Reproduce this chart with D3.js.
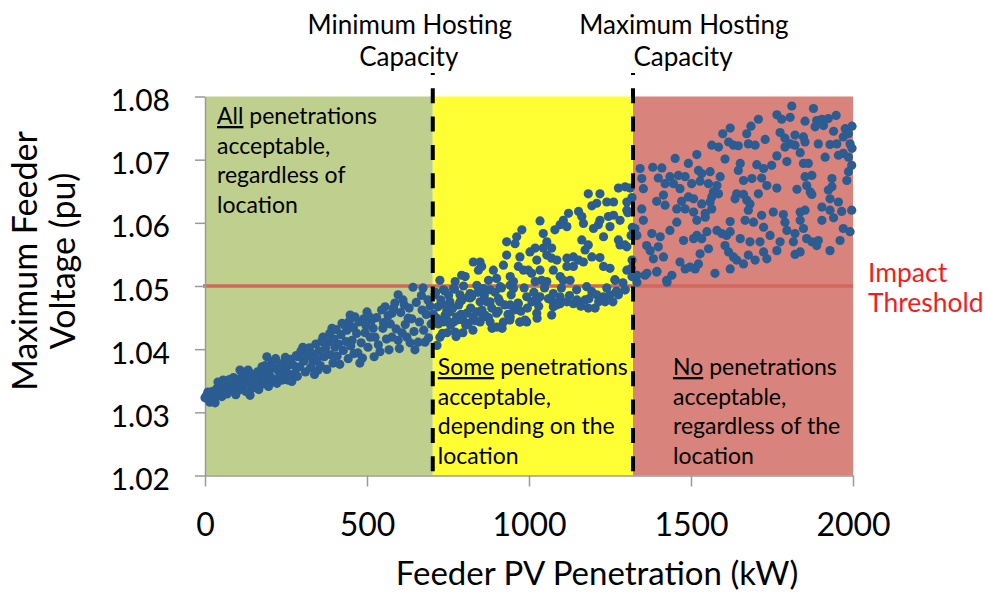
<!DOCTYPE html>
<html><head><meta charset="utf-8">
<script src="https://cdn.jsdelivr.net/npm/d3@7"></script>
<style>
html,body{margin:0;padding:0;background:#fff;}
svg{display:block;font-family:Lato,"Open Sans",sans-serif;}
</style></head>
<body><svg id="c" width="985" height="593"></svg>
<script>
// ---------------- DATA ----------------
const xTicks = [0, 500, 1000, 1500, 2000];
const yTicks = [1.02, 1.03, 1.04, 1.05, 1.06, 1.07, 1.08];
const xDomain = [0, 2000];
const yDomain = [1.02, 1.08];
const hostingCapacity = [703, 1321];          // kW: minimum, maximum
const hostingLabels = [["Minimum Hosting", "Capacity"], ["Maximum Hosting", "Capacity"]];
const impactThreshold = 1.05;
const thresholdLabel = ["Impact", "Threshold"];
const regionBounds = [[0, 703], [703, 1321], [1321, 2000]];
const regionKeyword = ["All", "Some", "No"];
const regionText = [
  [" penetrations", "acceptable,", "regardless of", "location"],
  [" penetrations", "acceptable,", "depending on the", "location"],
  [" penetrations", "acceptable,", "regardless of the", "location"]
];
const xTitle = "Feeder PV Penetration (kW)";
const yTitle = ["Maximum Feeder", "Voltage (pu)"];

// [penetration kW, max feeder voltage pu]
const greenPts = [
[0,1.0323],[15,1.0316],[31,1.0315],[9,1.0332],[40,1.0348],[56,1.0351],[71,1.0343],[62,1.0331],[93,1.0338],[108,1.0367],
[133,1.0367],[123,1.0346],[139,1.0327],[154,1.0340],[176,1.0372],[191,1.0388],[207,1.0380],[225,1.0367],[241,1.0378],[194,1.0351],
[222,1.0346],[256,1.0351],[278,1.0362],[287,1.0388],[302,1.0403],[318,1.0394],[333,1.0380],[349,1.0367],[364,1.0419],[380,1.0411],
[392,1.0433],[401,1.0403],[423,1.0441],[438,1.0430],[454,1.0414],[472,1.0394],[478,1.0378],[448,1.0454],[463,1.0451],[500,1.0459],
[515,1.0446],[494,1.0426],[525,1.0419],[503,1.0403],[540,1.0396],[556,1.0467],[577,1.0457],[596,1.0486],[611,1.0478],[586,1.0473],
[549,1.0433],[577,1.0419],[596,1.0414],[627,1.0449],[648,1.0399],[623,1.0419],[679,1.0411],[688,1.0478],[642,1.0498],[673,1.0497],
[670,1.0462],
[5,1.0327],[12,1.0325],[20,1.0322],[22,1.0333],[28,1.0329],[35,1.0337],[38,1.0326],[45,1.0331],[48,1.0342],[52,1.0325],
[58,1.0338],[65,1.0345],[68,1.0329],[75,1.0352],[78,1.0334],[82,1.0341],[88,1.0355],[95,1.0328],[99,1.0346],[104,1.0352],
[110,1.0336],[115,1.0358],[118,1.0343],[126,1.0333],[129,1.0356],[135,1.0349],[142,1.0361],[146,1.0338],[150,1.0355],[158,1.0347],
[162,1.0364],[166,1.0336],[170,1.0356],[178,1.0345],[183,1.0361],[186,1.0374],[196,1.0341],[199,1.0366],[203,1.0356],[210,1.0372],
[214,1.0348],[218,1.0385],[230,1.0357],[233,1.0374],[238,1.0351],[245,1.0363],[248,1.0387],[252,1.0372],[260,1.0360],[265,1.0384],
[268,1.0349],[272,1.0375],[282,1.0390],[285,1.0357],[292,1.0372],[296,1.0397],[305,1.0381],[310,1.0364],[314,1.0389],[322,1.0402],
[326,1.0371],[330,1.0393],[338,1.0360],[342,1.0408],[345,1.0384],[352,1.0397],[356,1.0374],[360,1.0412],[368,1.0388],[372,1.0401],
[376,1.0368],[385,1.0425],[388,1.0391],[395,1.0378],[398,1.0416],[405,1.0431],[408,1.0389],[412,1.0408],[416,1.0376],[420,1.0423],
[427,1.0398],[432,1.0437],[435,1.0412],[442,1.0385],[445,1.0444],[450,1.0405],[458,1.0434],[460,1.0393],[468,1.0425],[475,1.0443],
[482,1.0410],[486,1.0386],[490,1.0448],[497,1.0437],[506,1.0452],[510,1.0419],[519,1.0433],[522,1.0388],[530,1.0450],[535,1.0407],
[545,1.0462],[551,1.0442],[560,1.0416],[565,1.0453],[568,1.0399],[572,1.0440],[582,1.0465],[590,1.0432],[600,1.0401],[604,1.0458],
[608,1.0426],[615,1.0470],[618,1.0439],[630,1.0465],[633,1.0410],[638,1.0448],[645,1.0428],[652,1.0474],[658,1.0411],[662,1.0443],
[668,1.0485],[675,1.0430],[683,1.0455],[690,1.0418],[695,1.0468],[698,1.0440]
];
const yellowPts = [
[1183,1.0646],[1219,1.0646],[1209,1.0631],[1194,1.0627],[1240,1.0633],[1261,1.0633],[1276,1.0655],[1297,1.0657],[1312,1.0655],[1302,1.0633],
[1302,1.0620],[1261,1.0612],[1245,1.0610],[1281,1.0604],[1219,1.0604],[1214,1.0597],[1250,1.0594],[1199,1.0591],[1168,1.0599],[1153,1.0618],
[1163,1.0610],[1122,1.0615],[1106,1.0604],[1096,1.0597],[1117,1.0594],[1080,1.0589],[1034,1.0603],[1044,1.0583],[978,1.0589],[962,1.0578],
[931,1.0570],[957,1.0567],[1055,1.0570],[1070,1.0560],[1044,1.0560],[1019,1.0560],[1003,1.0554],[1024,1.0541],[1055,1.0549],[1070,1.0544],
[1086,1.0541],[1117,1.0544],[1137,1.0546],[1153,1.0541],[1168,1.0538],[1183,1.0565],[1173,1.0557],[1163,1.0573],[1230,1.0578],[1276,1.0573],
[1302,1.0562],[1281,1.0565],[1194,1.0546],[1219,1.0545],[1230,1.0531],[1250,1.0528],[1302,1.0525],[1318,1.0515],[1266,1.0509],[931,1.0549],
[921,1.0533],[890,1.0525],[828,1.0538],[849,1.0538],[844,1.0525],[854,1.0531],[983,1.0525],[998,1.0525],[1008,1.0520],[1034,1.0525],
[1039,1.0509],[1019,1.0507],[1055,1.0507],[1096,1.0515],[1117,1.0531],[1137,1.0531],[1075,1.0525],[1106,1.0509],[1127,1.0509],[972,1.0546],
[967,1.0531],[942,1.0515],[952,1.0507],[900,1.0512],[875,1.0509],[803,1.0515],[792,1.0517],[772,1.0507],[725,1.0509],[767,1.0496],
[736,1.0494],[710,1.0486],[787,1.0486],[818,1.0488],[839,1.0501],[859,1.0496],[880,1.0494],[911,1.0499],[942,1.0501],[952,1.0496],
[906,1.0480],[870,1.0475],[849,1.0475],[823,1.0483],[787,1.0475],[756,1.0475],[731,1.0472],[746,1.0462],[777,1.0451],[808,1.0457],
[839,1.0459],[864,1.0454],[900,1.0457],[942,1.0470],[967,1.0472],[993,1.0483],[1019,1.0478],[1034,1.0483],[1075,1.0488],[1096,1.0483],
[1096,1.0472],[1117,1.0475],[1137,1.0472],[1173,1.0478],[1147,1.0494],[1178,1.0499],[1194,1.0491],[1209,1.0486],[1230,1.0483],[1250,1.0486],
[1276,1.0486],[1297,1.0494],[1183,1.0465],[1204,1.0465],[1075,1.0467],[1070,1.0454],[1024,1.0457],[993,1.0443],[972,1.0443],[942,1.0451],
[921,1.0443],[880,1.0443],[849,1.0443],[813,1.0441],[767,1.0443],[736,1.0443],[715,1.0449],[725,1.0419],[716,1.0406],[747,1.0426],
[772,1.0427],[796,1.0426],[827,1.0430],[886,1.0433],[901,1.0435],[917,1.0433],[941,1.0446],[972,1.0443],[988,1.0446],[1025,1.0449],
[731,1.0446],[741,1.0454],[756,1.0459],[778,1.0446],[796,1.0446],[827,1.0451],[858,1.0451],[719,1.0467],[756,1.0470],[793,1.0478],
[818,1.0481],[880,1.0475],[910,1.0475],[966,1.0473],[1009,1.0475],[1028,1.0481],[1074,1.0475],[1148,1.0478],[1235,1.0475],[1259,1.0475],
[1296,1.0494],[1265,1.0510],[1318,1.0541],[1316,1.0528],[1305,1.0616],[1319,1.0593],[1296,1.0565],[1315,1.0580],[1318,1.0640],
[705,1.0455],[712,1.0490],[720,1.0440],[728,1.0478],[733,1.0425],[740,1.0492],[745,1.0448],[752,1.0485],[758,1.0438],[765,1.0465],
[770,1.0495],[775,1.0420],[783,1.0470],[790,1.0455],[798,1.0500],[805,1.0438],[812,1.0482],[820,1.0465],[835,1.0445],[842,1.0490],
[855,1.0462],[862,1.0485],[875,1.0450],[885,1.0465],[895,1.0490],[905,1.0460],[915,1.0497],[925,1.0470],[935,1.0455],[945,1.0486],
[955,1.0462],[975,1.0460],[985,1.0497],[995,1.0465],[1015,1.0490],[1030,1.0468],[1048,1.0497],[1060,1.0480],[1085,1.0470],[1100,1.0497],
[1125,1.0485],[1160,1.0468],[1185,1.0480],[1215,1.0475],[1240,1.0497],[1270,1.0492],[1290,1.0505]
];
const redPts = [
[1811,1.0785],[1878,1.0781],[1765,1.0771],[1780,1.0764],[1806,1.0767],[1708,1.0764],[1852,1.0761],[1888,1.0762],[1904,1.0764],[1924,1.0765],
[1948,1.0770],[1883,1.0752],[1909,1.0754],[1976,1.0749],[1997,1.0753],[1621,1.0750],[1598,1.0741],[1685,1.0753],[1672,1.0741],[1729,1.0732],
[1775,1.0743],[1790,1.0734],[1821,1.0739],[1847,1.0736],[1940,1.0745],[1970,1.0736],[1986,1.0741],[1564,1.0723],[1585,1.0720],[1616,1.0728],
[1631,1.0723],[1646,1.0722],[1677,1.0725],[1698,1.0723],[1790,1.0720],[1806,1.0725],[1821,1.0723],[1852,1.0728],[1893,1.0725],[1929,1.0724],
[1950,1.0725],[1991,1.0725],[1997,1.0718],[1518,1.0708],[1605,1.0701],[1451,1.0702],[1765,1.0706],[1837,1.0711],[1914,1.0704],[1955,1.0707],
[1970,1.0710],[1986,1.0704],[1492,1.0694],[1796,1.0697],[1652,1.0694],[1703,1.0692],[1749,1.0691],[1847,1.0694],[1862,1.0694],[1996,1.0691],
[1343,1.0686],[1382,1.0688],[1410,1.0687],[1523,1.0683],[1559,1.0681],[1646,1.0683],[1724,1.0686],[1986,1.0681],[1348,1.0670],[1399,1.0671],
[1435,1.0673],[1461,1.0675],[1482,1.0673],[1533,1.0678],[1590,1.0673],[1662,1.0667],[1688,1.0670],[1718,1.0671],[1852,1.0673],[1873,1.0675],
[1935,1.0670],[1981,1.0667],[1420,1.0662],[1446,1.0662],[1502,1.0662],[1528,1.0666],[1554,1.0662],[1580,1.0659],[1353,1.0654],[1466,1.0654],
[1585,1.0646],[1569,1.0649],[1734,1.0659],[1765,1.0655],[1827,1.0653],[1857,1.0659],[1868,1.0649],[1924,1.0652],[1935,1.0657],[1641,1.0646],
[1662,1.0645],[1708,1.0646],[1636,1.0638],[1394,1.0634],[1415,1.0644],[1420,1.0628],[1471,1.0634],[1492,1.0641],[1508,1.0638],[1533,1.0630],
[1564,1.0641],[1559,1.0633],[1672,1.0636],[1682,1.0630],[1873,1.0645],[1929,1.0638],[1955,1.0633],[1348,1.0622],[1456,1.0622],[1482,1.0622],
[1508,1.0617],[1544,1.0615],[1564,1.0622],[1677,1.0620],[1837,1.0617],[1852,1.0620],[1904,1.0625],[1929,1.0620],[1965,1.0618],[1996,1.0620],
[1353,1.0604],[1456,1.0601],[1518,1.0604],[1544,1.0609],[1621,1.0602],[1667,1.0604],[1693,1.0601],[1718,1.0612],[1754,1.0617],[1785,1.0613],
[1790,1.0601],[1837,1.0604],[1904,1.0604],[1940,1.0608],[1327,1.0591],[1379,1.0583],[1405,1.0578],[1435,1.0588],[1477,1.0572],[1518,1.0580],
[1549,1.0586],[1580,1.0588],[1595,1.0583],[1610,1.0580],[1621,1.0586],[1652,1.0575],[1682,1.0570],[1724,1.0593],[1744,1.0580],[1775,1.0570],
[1796,1.0588],[1821,1.0583],[1847,1.0591],[1816,1.0570],[1857,1.0575],[1873,1.0570],[1893,1.0572],[1929,1.0556],[1960,1.0572],[1970,1.0591],
[1991,1.0586],[1333,1.0580],[1363,1.0564],[1374,1.0556],[1399,1.0562],[1384,1.0543],[1415,1.0546],[1508,1.0575],[1533,1.0575],[1554,1.0559],
[1528,1.0551],[1605,1.0564],[1616,1.0554],[1631,1.0546],[1641,1.0541],[1662,1.0535],[1677,1.0549],[1698,1.0541],[1734,1.0543],[1724,1.0554],
[1713,1.0570],[1765,1.0556],[1821,1.0550],[1837,1.0554],[1888,1.0564],[1466,1.0538],[1482,1.0527],[1497,1.0530],[1523,1.0535],[1513,1.0527],
[1574,1.0520],[1621,1.0527],[1333,1.0517],[1358,1.0517],[1394,1.0522],[1425,1.0509],[1441,1.0517],[1333,1.0506],[1364,1.0520],[1426,1.0506],
[1395,1.0523]
];

// ---------------- STYLE ----------------
const regionFill = ["#BFCF8D", "#FFFF33", "#D8837B"];
const pointColor = "#2B5C92";
const font = "Lato, 'Open Sans', sans-serif";

const svg = d3.select("#c");
const x = d3.scaleLinear().domain(xDomain).range([205, 853]);
const y = d3.scaleLinear().domain(yDomain).range([475.5, 96.5]);

// regions
svg.append("g").selectAll("rect").data(regionBounds).join("rect")
  .attr("x", d => x(d[0])).attr("width", d => x(d[1]) - x(d[0]))
  .attr("y", y(yDomain[1])).attr("height", y(yDomain[0]) - y(yDomain[1]))
  .attr("fill", (d, i) => regionFill[i]);

// threshold line
svg.append("line")
  .attr("x1", x(0) - 2).attr("x2", x(2000))
  .attr("y1", y(impactThreshold)).attr("y2", y(impactThreshold))
  .attr("stroke", "#D3675D").attr("stroke-width", 3.5);

// axes
const yAxis = svg.append("g").attr("transform", `translate(${x(0)},0)`)
  .call(d3.axisLeft(y).tickValues(yTicks).tickSize(10).tickSizeOuter(0).tickPadding(25).tickFormat(d3.format(".2f")));
const xAxis = svg.append("g").attr("transform", `translate(0,${y(yDomain[0])})`)
  .call(d3.axisBottom(x).tickValues(xTicks).tickSize(11).tickSizeOuter(0).tickPadding(21).tickFormat(d3.format("d")));
[yAxis, xAxis].forEach(a => {
  a.selectAll("path.domain").attr("stroke", "#9A9A9A").attr("stroke-width", 1.5);
  a.selectAll(".tick line").attr("stroke", "#9A9A9A").attr("stroke-width", 1.5);
  a.selectAll("text").attr("fill", "#000").style("font-family", font).style("font-size", "30px");
});
xAxis.selectAll("text").style("font-size", "32px");
yAxis.selectAll("text").attr("dy", "0.47em");
xAxis.selectAll("text").attr("dy", "0.88em");

// points
const allPts = greenPts.concat(yellowPts, redPts);
svg.append("g").selectAll("circle").data(allPts).join("circle")
  .attr("cx", d => x(d[0])).attr("cy", d => y(d[1])).attr("r", 4.6)
  .attr("fill", pointColor);

// hosting capacity dashed lines
svg.append("g").selectAll("line").data(hostingCapacity).join("line")
  .attr("x1", d => x(d)).attr("x2", d => x(d))
  .attr("y1", 73).attr("y2", y(yDomain[0]))
  .attr("stroke", "#000").attr("stroke-width", 4)
  .attr("stroke-dasharray", "15,13.3").attr("stroke-dashoffset", 13);

// hosting labels
const hostLabelShift = [-23, 51];
hostingCapacity.forEach((d, i) => {
  const t = svg.append("text").attr("y", 34).attr("text-anchor", "middle")
    .style("font-family", font).style("font-size", "26px");
  hostingLabels[i].forEach((s, j) => t.append("tspan")
    .attr("x", x(d) + hostLabelShift[i] - (j ? 1 : 0)).attr("dy", j ? 32 : 0).text(s));
});

// region texts
const regionTextX = [x(regionBounds[0][0]) + 12, x(regionBounds[1][0]) + 5, x(regionBounds[2][0]) + 40];
const regionTextY = [124, 375, 375];
regionText.forEach((lines, i) => {
  const t = svg.append("text").attr("x", regionTextX[i]).attr("y", regionTextY[i])
    .style("font-family", font).style("font-size", "23px");
  lines.forEach((s, j) => {
    const row = t.append("tspan").attr("x", regionTextX[i]).attr("dy", j ? 29.5 : 0);
    if (j === 0) {
      row.append("tspan").attr("text-decoration", "underline").text(regionKeyword[i]);
      row.append("tspan").text(s);
    } else row.text(s);
  });
});

// threshold label
const tl = svg.append("text").attr("x", 868).attr("y", 282)
  .style("font-family", font).style("font-size", "26.5px").attr("fill", "#F01E1E");
thresholdLabel.forEach((s, j) => tl.append("tspan").attr("x", 868).attr("dy", j ? 30 : 0).text(s));

// axis titles
svg.append("text").attr("x", x(1210)).attr("y", 585).attr("text-anchor", "middle")
  .style("font-family", font).style("font-size", "33px").text(xTitle);
const yt = svg.append("text").attr("transform", "translate(37,261) rotate(-90)")
  .attr("text-anchor", "middle").style("font-family", font).style("font-size", "34px");
yTitle.forEach((s, j) => yt.append("tspan").attr("x", 0).attr("y", j * 38).text(s));
</script></body></html>
